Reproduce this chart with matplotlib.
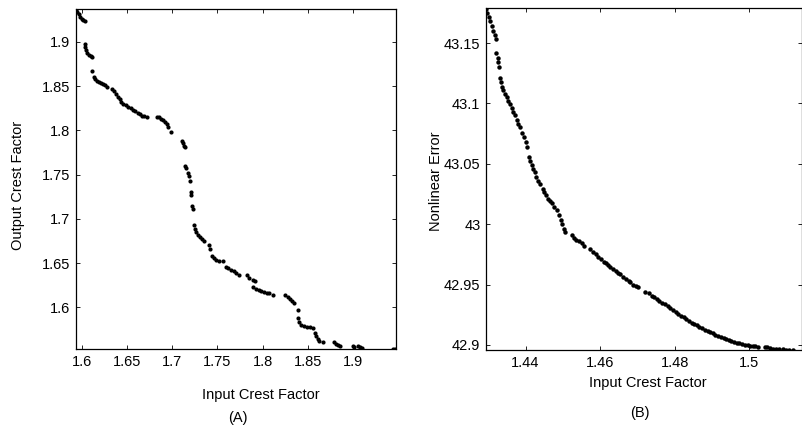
import numpy as np
import matplotlib
matplotlib.use("Agg")
import matplotlib.pyplot as plt

# (A) input vs output crest factor
input_cf_a = [
    1.5933, 1.5948, 1.5967, 1.5981, 1.6000, 1.6015, 1.6033,
    1.6030, 1.6037, 1.6044, 1.6059, 1.6078, 1.6096, 1.6115,
    1.6111, 1.6130, 1.6144, 1.6163, 1.6185, 1.6207, 1.6230, 1.6252, 1.6274,
    1.6337, 1.6359, 1.6381, 1.6400, 1.6415, 1.6433, 1.6459, 1.6485, 1.6511,
    1.6537, 1.6563, 1.6589, 1.6615, 1.6637, 1.6663, 1.6689, 1.6719,
    1.6830, 1.6852, 1.6874, 1.6896, 1.6919, 1.6941, 1.6952, 1.6985,
    1.7111, 1.7119, 1.7130, 1.7141,
    1.7141, 1.7152, 1.7174, 1.7185, 1.7200,
    1.7204, 1.7211, 1.7222, 1.7230,
    1.7244, 1.7252, 1.7267, 1.7289, 1.7311, 1.7333, 1.7356,
    1.7407, 1.7419,
    1.7437, 1.7459, 1.7489, 1.7519, 1.7563,
    1.7593, 1.7622, 1.7652, 1.7681, 1.7711, 1.7741,
    1.7822, 1.7852, 1.7889, 1.7911,
    1.7896, 1.7926, 1.7956, 1.7985, 1.8015, 1.8044, 1.8074, 1.8111,
    1.8252, 1.8281, 1.8304, 1.8326, 1.8348,
    1.8393,
    1.8393, 1.8407, 1.8430, 1.8459, 1.8489, 1.8526, 1.8563,
    1.8578, 1.8593, 1.8615, 1.8630, 1.8667,
    1.8793, 1.8815, 1.8837, 1.8859,
    1.9000, 1.9015, 1.9052, 1.9081, 1.9104,
    1.9444, 1.9467,
]
output_cf_a = [
    1.9363, 1.9341, 1.9311, 1.9281, 1.9258, 1.9243, 1.9235,
    1.8979, 1.8941, 1.8911, 1.8881, 1.8858, 1.8843, 1.8828,
    1.8673, 1.8609, 1.8583, 1.8564, 1.8549, 1.8534, 1.8523, 1.8511, 1.8492,
    1.8466, 1.8443, 1.8417, 1.8383, 1.8353, 1.8323, 1.8300, 1.8285, 1.8266,
    1.8251, 1.8236, 1.8221, 1.8202, 1.8183, 1.8168, 1.8161, 1.8157,
    1.8157, 1.8146, 1.8130, 1.8115, 1.8097, 1.8074, 1.8044, 1.7980,
    1.7885, 1.7863, 1.7829, 1.7810,
    1.7603, 1.7580, 1.7523, 1.7486, 1.7433,
    1.7308, 1.7271, 1.7146, 1.7109,
    1.6928, 1.6890, 1.6852, 1.6818, 1.6792, 1.6769, 1.6747,
    1.6701, 1.6664,
    1.6581, 1.6554, 1.6535, 1.6520, 1.6520,
    1.6456, 1.6441, 1.6426, 1.6407, 1.6385, 1.6362,
    1.6362, 1.6332, 1.6309, 1.6302,
    1.6226, 1.6211, 1.6200, 1.6189, 1.6173, 1.6166, 1.6158, 1.6143,
    1.6136, 1.6117, 1.6098, 1.6072, 1.6045,
    1.5970,
    1.5876, 1.5834, 1.5804, 1.5789, 1.5781, 1.5778, 1.5766,
    1.5713, 1.5676, 1.5646, 1.5623, 1.5612,
    1.5604, 1.5585, 1.5570, 1.5563,
    1.5563, 1.5548, 1.5563, 1.5548, 1.5536,
    1.5532, 1.5532,
]

# (B) input crest factor vs nonlinear error
input_cf_b = [
    1.4294, 1.4298, 1.4301, 1.4305, 1.4309, 1.4314, 1.4318, 1.4322,
    1.4322, 1.4325, 1.4327, 1.4329,
    1.4331, 1.4334, 1.4337, 1.4340, 1.4345, 1.4349, 1.4354, 1.4358, 1.4363,
    1.4367, 1.4372, 1.4376, 1.4380, 1.4385,
    1.4390, 1.4396, 1.4401, 1.4405,
    1.4410, 1.4413, 1.4417, 1.4421, 1.4425, 1.4429, 1.4434, 1.4438, 1.4446,
    1.4449, 1.4454, 1.4460, 1.4465, 1.4472, 1.4476,
    1.4483,
    1.4490, 1.4495, 1.4499, 1.4503, 1.4506,
    1.4524, 1.4529, 1.4536, 1.4544, 1.4551, 1.4556,
    1.4574, 1.4581, 1.4588, 1.4595, 1.4602, 1.4610, 1.4615,
    1.4620, 1.4627, 1.4635, 1.4642, 1.4649, 1.4654,
    1.4661, 1.4668, 1.4676, 1.4681, 1.4688, 1.4695, 1.4702,
    1.4720,
    1.4731, 1.4738, 1.4745, 1.4752, 1.4759, 1.4767, 1.4774, 1.4781, 1.4788,
    1.4795, 1.4802, 1.4809, 1.4816, 1.4824, 1.4831, 1.4838, 1.4845, 1.4852,
    1.4859, 1.4866, 1.4874, 1.4881, 1.4888, 1.4895, 1.4902, 1.4909, 1.4916,
    1.4923, 1.4931, 1.4938, 1.4945, 1.4952, 1.4959, 1.4966, 1.4973, 1.4981,
    1.4988, 1.4995, 1.5002, 1.5009, 1.5016, 1.5023,
    1.5041, 1.5048, 1.5055, 1.5063, 1.5070,
    1.5080, 1.5089, 1.5098, 1.5107, 1.5116,
]
nonlinear_err_b = [
    43.1784, 43.1745, 43.1712, 43.1679, 43.1640, 43.1602, 43.1566, 43.1533,
    43.1415, 43.1376, 43.1340, 43.1305,
    43.1211, 43.1175, 43.1139, 43.1112, 43.1079, 43.1051, 43.1024, 43.0991, 43.0963,
    43.0927, 43.0900, 43.0864, 43.0831, 43.0803,
    43.0754, 43.0721, 43.0680, 43.0638,
    43.0556, 43.0523, 43.0490, 43.0459, 43.0432, 43.0390, 43.0357, 43.0330, 43.0294,
    43.0267, 43.0239, 43.0211, 43.0192, 43.0176, 43.0143,
    43.0115,
    43.0074, 43.0032, 42.9999, 42.9964, 42.9936,
    42.9909, 42.9889, 42.9873, 42.9862, 42.9840, 42.9818,
    42.9798, 42.9771, 42.9752, 42.9730, 42.9708, 42.9688, 42.9675,
    42.9661, 42.9647, 42.9631, 42.9614, 42.9598, 42.9587,
    42.9564, 42.9548, 42.9531, 42.9518, 42.9498, 42.9487, 42.9476,
    42.9441,
    42.9427, 42.9405, 42.9394, 42.9377, 42.9361, 42.9350, 42.9339, 42.9322, 42.9303,
    42.9289, 42.9273, 42.9256, 42.9240, 42.9229, 42.9212, 42.9201, 42.9185, 42.9174,
    42.9165, 42.9151, 42.9140, 42.9124, 42.9113, 42.9107, 42.9096, 42.9085, 42.9074,
    42.9063, 42.9058, 42.9047, 42.9041, 42.9030, 42.9025, 42.9019, 42.9014, 42.9008,
    42.9003, 42.8997, 42.8992, 42.8992, 42.8992, 42.8986,
    42.8981, 42.8981, 42.8975, 42.8970, 42.8964,
    42.8964, 42.8964, 42.8959, 42.8959, 42.8959,
]

xticks_a = [1.6, 1.65, 1.7, 1.75, 1.8, 1.85, 1.9]
yticks_a = [1.6, 1.65, 1.7, 1.75, 1.8, 1.85, 1.9]
xticks_b = [1.44, 1.46, 1.48, 1.5]
yticks_b = [42.9, 42.95, 43.0, 43.05, 43.1, 43.15]

plt.rcParams['font.family'] = ['Liberation Sans', 'DejaVu Sans']
plt.rcParams['font.size'] = 10.5

W, H = 803, 430
fig = plt.figure(figsize=(W / 100, H / 100), dpi=100)

# axes boxes in pixels: left, top, right, bottom
box_a = (76, 9, 396, 349)
box_b = (486, 8, 802, 350)


def make_axes(box):
    l, t, r, b = box
    return fig.add_axes([l / W, 1 - b / H, (r - l) / W, (b - t) / H])


def style(ax, xt, yt):
    ax.set_xticks(xt)
    ax.set_yticks(yt)
    ax.set_xticklabels([f"{v:g}" for v in xt])
    ax.set_yticklabels([f"{v:g}" for v in yt])
    ax.tick_params(direction='in', length=3, width=0.6, top=True, right=True,
                   labelsize=10.5, pad=4)
    for s in ax.spines.values():
        s.set_linewidth(0.9)


ax1 = make_axes(box_a)
ax1.plot(input_cf_a, output_cf_a, 'o', color='k', markersize=3.0, markeredgewidth=0)
ax1.set_xlim(1.5933, 1.9478)
ax1.set_ylim(1.5528, 1.9373)
style(ax1, xticks_a, yticks_a)

ax2 = make_axes(box_b)
ax2.plot(input_cf_b, nonlinear_err_b, 'o', color='k', markersize=3.2, markeredgewidth=0)
ax2.set_xlim(1.4294, 1.5141)
ax2.set_ylim(42.8958, 43.1790)
style(ax2, xticks_b, yticks_b)

# labels placed as in the original figure
fig.text(261 / W, 1 - 395 / H, "Input Crest Factor", ha='center', va='center')
fig.text(238 / W, 1 - 418 / H, "(A)", ha='center', va='center')
fig.text(18 / W, 1 - 185 / H, "Output Crest Factor", ha='center', va='center', rotation=90)

fig.text(648 / W, 1 - 383 / H, "Input Crest Factor", ha='center', va='center')
fig.text(640 / W, 1 - 413 / H, "(B)", ha='center', va='center')
fig.text(436 / W, 1 - 181 / H, "Nonlinear Error", ha='center', va='center', rotation=90)

fig.savefig("out.png", dpi=100)
